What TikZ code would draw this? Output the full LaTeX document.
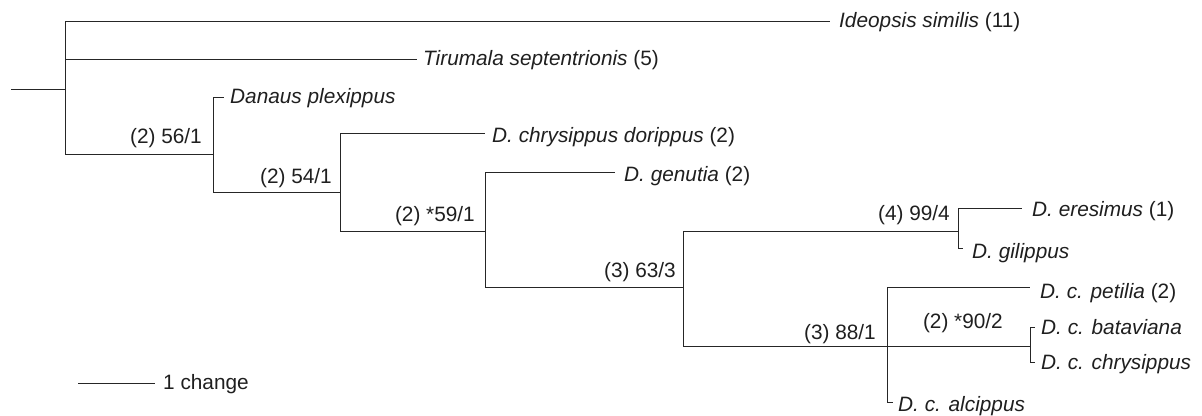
\documentclass[tikz,border=0pt]{standalone}
\usepackage{fontspec}
\setmainfont{Liberation Sans}
\begin{document}
\begin{tikzpicture}[x=1pt,y=-1pt,
  edge/.style={draw=black!85, line width=1pt},
  tiplabel/.style={anchor=west, inner sep=0pt, text height=14.9pt, text depth=0pt,
    text=black!88, font=\fontsize{20.8}{25}\selectfont},
  supp/.style={anchor=base east, inner sep=0pt, text=black!88,
    font=\fontsize{20.8}{25}\selectfont}]
\useasboundingbox (0,0) rectangle (1202,415);

% internal nodes
\coordinate (r0) at (11,89);
\coordinate (n1) at (65,89);
\coordinate (n2) at (213,154);
\coordinate (n3) at (340,192);
\coordinate (n4) at (485,231);
\coordinate (n5) at (683,287);
\coordinate (n6) at (958,231);
\coordinate (n7) at (887,346);
\coordinate (n8) at (1030,346);

% tip ends
\coordinate (eIdeo) at (830,21);
\coordinate (eTiru) at (417,59);
\coordinate (eDan) at (224,97);
\coordinate (eDor) at (485,133);
\coordinate (eGen) at (615,172);
\coordinate (eEre) at (1022,208);
\coordinate (eGil) at (963,248);
\coordinate (ePet) at (1030,287);
\coordinate (eBat) at (1035,327);
\coordinate (eChr) at (1035,362);
\coordinate (eAlc) at (893,402);

% tip labels
\node[tiplabel] (tIdeo) at (839,20) {\textit{Ideopsis similis} (11)};
\node[tiplabel] (tTiru) at (423,58) {\textit{Tirumala septentrionis} (5)};
\node[tiplabel] (tDan) at (230,96) {\textit{Danaus plexippus}};
\node[tiplabel] (tDor) at (492,135) {\textit{D. chrysippus dorippus} (2)};
\node[tiplabel] (tGen) at (624,174) {\textit{D. genutia} (2)};
\node[tiplabel] (tEre) at (1032,209) {\textit{D. eresimus} (1)};
\node[tiplabel] (tGil) at (972,251) {\textit{D. gilippus}};
\node[tiplabel] (tPet) at (1040,291) {\textit{D. c. petilia} (2)};
\node[tiplabel] (tBat) at (1041,327) {\textit{D. c. bataviana}};
\node[tiplabel] (tChr) at (1041,362) {\textit{D. c. chrysippus}};
\node[tiplabel] (tAlc) at (898,404) {\textit{D. c. alcippus}};

% branches
\draw[edge] (r0) -- (n1);
\draw[edge] (n1) |- (eIdeo);
\draw[edge] (n1) |- (eTiru);
\draw[edge] (n1) |- (n2);
\draw[edge] (n2) |- (eDan);
\draw[edge] (n2) |- (n3);
\draw[edge] (n3) |- (eDor);
\draw[edge] (n3) |- (n4);
\draw[edge] (n4) |- (eGen);
\draw[edge] (n4) |- (n5);
\draw[edge] (n5) |- (n6);
\draw[edge] (n5) |- (n7);
\draw[edge] (n6) |- (eEre);
\draw[edge] (n6) |- (eGil);
\draw[edge] (n7) |- (ePet);
\draw[edge] (n7) |- (eAlc);
\draw[edge] (n7) -- (n8);
\draw[edge] (n8) |- (eBat);
\draw[edge] (n8) |- (eChr);

% support labels
\node[supp] (s1) at (202,143) {(2) 56/1};
\node[supp] (s2) at (332,183) {(2) 54/1};
\node[supp] (s3) at (475,221) {(2) *59/1};
\node[supp] (s4) at (676,277) {(3) 63/3};
\node[supp] (s5) at (950,220) {(4) 99/4};
\node[supp] (s6) at (876,339) {(3) 88/1};
\node[supp] (s7) at (1003,328) {(2) *90/2};

% scale bar
\coordinate (sb0) at (78,383);
\coordinate (sb1) at (155,383);
\draw[edge] (sb0) -- (sb1);
\node[tiplabel] (sbl) at (163,382) {1 change};
\end{tikzpicture}
\end{document}
